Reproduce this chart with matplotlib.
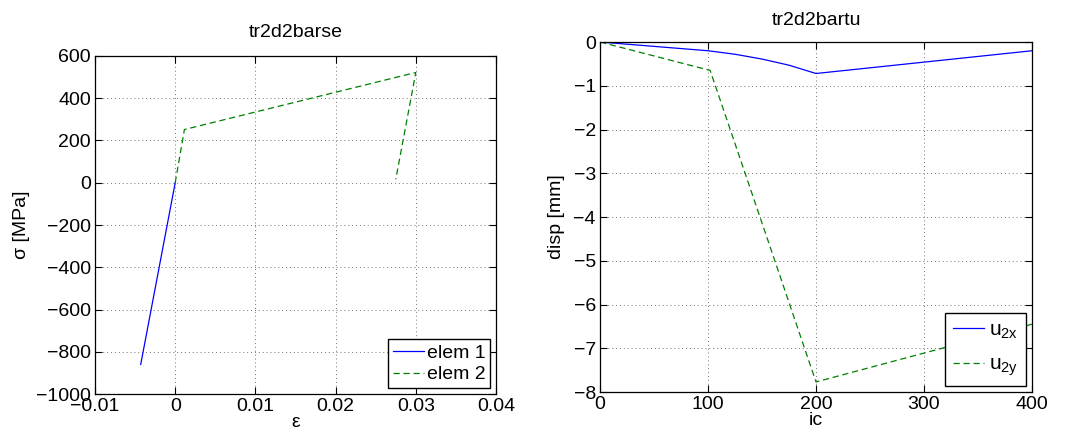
import numpy as np
import matplotlib
matplotlib.use("Agg")
import matplotlib.pyplot as plt

plt.rcParams['font.family'] = ['Liberation Sans', 'DejaVu Sans']
plt.rcParams['mathtext.fontset'] = 'custom'
plt.rcParams['mathtext.rm'] = 'Liberation Sans'
plt.rcParams['mathtext.it'] = 'Liberation Sans'

# left: stress-strain
eps_el1 = [-0.0043, 0.0]
sig_el1 = [-860, 0]
eps_el2 = [0.0, 0.00115, 0.0300, 0.0275]
sig_el2 = [0, 252, 522, 16]

# right: displacements vs load step
ic = [0, 100, 125, 150, 175, 200, 300, 400]
u2x = [0.0, -0.20, -0.28, -0.39, -0.53, -0.72, -0.46, -0.20]
ic_y = [0, 102, 200, 300, 400]
u2y = [0.0, -0.65, -7.77, -7.11, -6.45]

fig = plt.figure(figsize=(10.74, 4.36), dpi=100)
ax1 = fig.add_axes([95/1074, 1 - 394/436, 401/1074, 338/436])
ax2 = fig.add_axes([600/1074, 1 - 392/436, 432/1074, 350/436])

fs = 14

ax1.plot(eps_el1, sig_el1, color='blue', lw=0.9, label='elem 1')
ax1.plot(eps_el2, sig_el2, color=(0, 0.5, 0), lw=0.9, ls='--', dashes=(5, 3), label='elem 2')
ax1.set_xlim(-0.01, 0.04)
ax1.set_ylim(-1000, 600)
ax1.set_xticks([-0.01, 0, 0.01, 0.02, 0.03, 0.04])
ax1.set_xticklabels(['\u22120.01', '0', '0.01', '0.02', '0.03', '0.04'])
ax1.set_yticks(np.arange(-1000, 601, 200))
ax1.set_title('tr2d2barse', fontsize=fs, pad=14)
ax1.set_xlabel('\u03b5', fontsize=fs, labelpad=-1)
ax1.set_ylabel('\u03c3 [MPa]', fontsize=fs, labelpad=4)

ax2.plot(ic, u2x, color='blue', lw=0.9, label='u$_{2x}$')
ax2.plot(ic_y, u2y, color=(0, 0.5, 0), lw=0.9, ls='--', dashes=(5, 3), label='u$_{2y}$')
ax2.set_xlim(0, 400)
ax2.set_ylim(-8, 0)
ax2.set_xticks([0, 100, 200, 300, 400])
ax2.set_yticks(np.arange(-8, 1, 1))
ax2.set_title('tr2d2bartu', fontsize=fs, pad=12)
ax2.set_xlabel('ic', fontsize=fs, labelpad=-1)
ax2.set_ylabel('disp [mm]', fontsize=fs, labelpad=6)

for ax in (ax1, ax2):
    ax.grid(True, ls=(0, (1, 3)), color='0.45', lw=0.7)
    ax.tick_params(direction='in', top=True, right=True, labelsize=fs, length=5, width=0.8, pad=3)
    for s in ax.spines.values():
        s.set_linewidth(0.9)
    ax.yaxis.set_major_formatter(matplotlib.ticker.FuncFormatter(lambda v, p: f'{v:g}'.replace('-', '\u2212')))

leg1 = ax1.legend(loc='lower right', fontsize=fs, fancybox=False, framealpha=1,
                  edgecolor='black', borderaxespad=0.3, handlelength=1.6,
                  handletextpad=0.15, borderpad=0.25, labelspacing=0.2)
leg1.get_frame().set_linewidth(1.0)
leg2 = ax2.legend(loc='lower right', fontsize=15, fancybox=False, framealpha=1,
                  edgecolor='black', borderaxespad=0.3, handlelength=1.5,
                  handletextpad=0.25, borderpad=0.35, labelspacing=0.7)
leg2.get_frame().set_linewidth(1.0)

fig.savefig('out.png', dpi=100)
